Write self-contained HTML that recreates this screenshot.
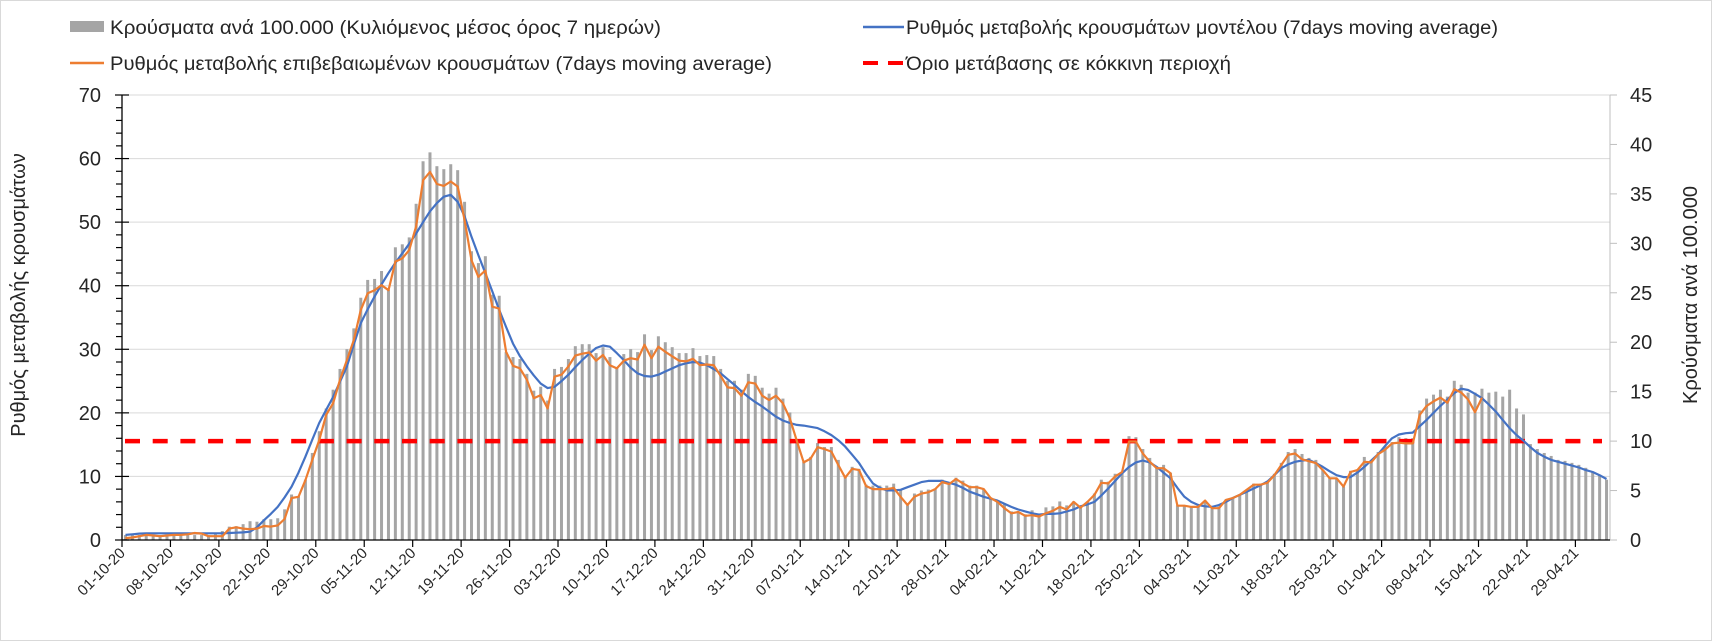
<!DOCTYPE html>
<html>
<head>
<meta charset="utf-8">
<style>
  html,body{margin:0;padding:0;background:#fff;}
  svg{display:block;font-family:"Liberation Sans","DejaVu Sans",sans-serif;}
</style>
</head>
<body>
<svg id="chart" width="1712" height="641" viewBox="0 0 1712 641" xmlns="http://www.w3.org/2000/svg">
  <rect x="0.5" y="0.5" width="1711" height="640" fill="#fff" stroke="#d9d9d9"/>
  <g>
    <g>
      <rect x="70" y="21" width="34" height="11" fill="#a5a5a5"/>
      <text x="110" y="34" font-size="19" fill="#262626" textLength="551" lengthAdjust="spacingAndGlyphs">Κρούσματα ανά 100.000 (Κυλιόμενος μέσος όρος 7 ημερών)</text>
    </g>
    <g>
      <line x1="70" y1="63" x2="104" y2="63" stroke="#ed7d31" stroke-width="2.5"/>
      <text x="110" y="70" font-size="19" fill="#262626" textLength="662" lengthAdjust="spacingAndGlyphs">Ρυθμός μεταβολής επιβεβαιωμένων κρουσμάτων (7days moving average)</text>
    </g>
    <g>
      <line x1="863" y1="27" x2="904" y2="27" stroke="#4472c4" stroke-width="2.5"/>
      <text x="906" y="34" font-size="19" fill="#262626" textLength="592" lengthAdjust="spacingAndGlyphs">Ρυθμός μεταβολής κρουσμάτων μοντέλου (7days moving average)</text>
    </g>
    <g>
      <line x1="863" y1="63" x2="904" y2="63" stroke="#ff0000" stroke-width="4" stroke-dasharray="15,10"/>
      <text x="906" y="70" font-size="19" fill="#262626" textLength="325" lengthAdjust="spacingAndGlyphs">Όριο μετάβασης σε κόκκινη περιοχή</text>
    </g>
  </g>
  <text transform="translate(25,295) rotate(-90)" text-anchor="middle" font-size="20" fill="#262626">Ρυθμός μεταβολής κρουσμάτων</text>
  <text transform="translate(1697,295) rotate(-90)" text-anchor="middle" font-size="20" fill="#262626">Κρούσματα ανά 100.000</text>
  <g id="grid"></g>
  <g id="bars"></g>
  <g id="lines"></g>
  <g id="axes"></g>
</svg>
<script>
const tickLabels = ["01-10-20","08-10-20","15-10-20","22-10-20","29-10-20","05-11-20","12-11-20","19-11-20","26-11-20","03-12-20","10-12-20","17-12-20","24-12-20","31-12-20","07-01-21","14-01-21","21-01-21","28-01-21","04-02-21","11-02-21","18-02-21","25-02-21","04-03-21","11-03-21","18-03-21","25-03-21","01-04-21","08-04-21","15-04-21","22-04-21","29-04-21"];
const leftTicks = [0,10,20,30,40,50,60,70];
const rightTicks = [0,5,10,15,20,25,30,35,40,45];
const redThreshold = 10;
const casesPer100k = [
0.5,0.5,0.5,0.6,0.5,0.5,0.5,0.5,0.6,0.5,
0.5,0.5,0.5,0.6,0.9,1.35,1.4,1.6,1.9,1.85,
2.1,2.1,2.2,3.1,4.6,4.4,6.1,8.8,11.0,13.3,
15.2,17.3,19.3,21.4,24.5,26.3,26.4,27.2,25.3,29.6,
29.9,30.6,34.0,38.3,39.2,37.8,37.5,38.0,37.4,34.2,
29.2,28.0,28.7,24.8,24.7,19.0,18.5,18.3,16.8,15.1,
15.5,14.1,17.3,17.5,18.3,19.6,19.8,19.8,18.9,19.5,
18.5,17.4,18.8,19.3,19.0,20.8,19.2,20.6,20.0,19.5,
18.9,18.9,19.4,18.6,18.7,18.6,17.3,16.1,16.1,15.2,
16.8,16.6,15.4,14.8,15.4,14.3,12.9,10.1,7.9,8.4,
9.8,9.4,9.4,8.1,6.4,7.4,7.2,5.6,5.5,5.5,
5.5,5.7,5.1,3.5,4.7,5.0,5.1,5.2,6.1,5.7,
6.3,6.0,5.5,5.5,5.1,4.2,4.0,3.7,2.9,2.9,
2.6,3.0,2.5,3.3,3.4,3.9,3.5,3.9,3.4,3.9,
4.7,6.1,5.9,6.7,6.9,10.5,10.4,9.2,8.3,7.4,
7.6,6.8,3.5,3.4,3.4,3.4,4.0,3.3,3.4,4.1,
4.3,4.6,5.1,5.7,5.7,5.8,6.7,7.8,8.9,9.2,
8.7,8.3,8.1,7.1,6.3,6.2,5.4,7.0,7.1,8.4,
7.9,8.9,9.5,9.9,10.4,10.3,10.3,13.1,14.3,14.7,
15.2,14.5,16.1,15.7,14.9,14.9,15.3,14.9,15.0,14.5,
15.2,13.3,12.7,9.7,9.2,8.8,8.5,8.1,8.0,7.8,
7.6,7.3,6.9,6.6,6.1];
const confirmedRate = [
0.3,0.4,0.6,0.8,0.7,0.6,0.7,0.8,0.8,0.9,1.1,1.0,0.6,0.6,0.6,
1.8,2.0,1.8,1.7,1.8,2.2,2.1,2.3,3.3,6.6,
6.8,9.4,12.6,15.7,19.7,21.5,25.2,28.3,31.5,36.2,
38.8,39.3,40.1,39.3,43.8,44.3,45.6,49.3,56.6,57.9,
56.0,55.7,56.4,55.6,50.3,44.0,41.4,42.4,36.7,36.4,
29.6,27.4,27.0,25.2,22.3,22.8,20.7,25.7,26.0,27.3,
29.0,29.3,29.5,28.2,29.1,27.5,27.0,28.2,28.6,28.4,
30.7,28.6,30.4,29.6,28.9,28.2,28.1,28.5,27.5,27.6,
27.5,25.8,24.0,23.9,22.7,24.8,24.6,22.7,22.0,22.7,
21.5,19.1,15.6,12.2,12.8,14.6,14.3,13.9,11.8,9.8,
11.2,11.0,8.5,8.0,8.0,8.0,8.2,6.8,5.5,6.8,
7.3,7.5,8.0,9.1,8.8,9.6,8.9,8.3,8.3,8.0,
6.6,6.0,5.0,4.2,4.4,3.8,3.9,3.7,4.2,4.6,
5.2,4.8,6.0,5.1,6.0,7.1,9.0,8.9,10.0,10.7,
15.5,15.5,13.6,12.3,11.3,11.3,10.5,5.4,5.4,5.2,
5.2,6.2,5.0,5.0,6.3,6.6,7.1,7.9,8.7,8.7,
9.0,10.2,11.8,13.4,13.6,12.7,12.4,12.1,11.0,9.7,
9.7,8.4,10.7,11.0,12.3,12.2,13.5,14.2,15.2,15.3,
15.2,15.2,19.7,21.1,21.8,22.4,21.6,23.7,23.2,22.1,20.1,22.4];
const modelRate = [
0.8,0.9,1.0,1.05,1.05,1.05,1.05,1.05,1.05,1.05,
1.05,1.05,1.05,1.05,1.05,1.1,1.15,1.2,1.3,2.0,
3.1,4.1,5.2,6.7,8.4,10.6,13.1,15.8,18.4,20.5,
22.5,24.9,27.3,30.8,34.1,36.3,38.3,40.2,42.0,43.6,
45.1,46.6,48.2,50.0,51.7,53.0,54.0,54.3,53.2,50.9,
47.7,44.8,42.0,39.1,36.2,33.5,30.9,28.9,27.3,25.9,
24.6,23.9,24.1,25.0,26.0,27.2,28.3,29.3,30.2,30.6,
30.4,29.4,28.3,27.1,26.2,25.8,25.7,26.0,26.5,27.0,
27.5,27.8,28.0,27.9,27.5,26.9,26.2,25.3,24.4,23.4,
22.5,21.7,21.0,20.2,19.4,18.8,18.4,18.1,18.0,17.8,
17.6,17.1,16.5,15.7,14.7,13.4,12.1,10.4,8.9,8.2,
7.8,7.8,7.9,8.3,8.7,9.1,9.3,9.3,9.3,9.0,
8.7,8.2,7.6,7.2,6.8,6.5,6.2,5.7,5.2,4.8,
4.5,4.2,4.0,4.1,4.1,4.2,4.5,4.8,5.3,5.6,
6.0,7.0,8.1,9.3,10.5,11.5,12.2,12.5,12.2,11.5,
10.6,9.7,8.2,6.8,6.0,5.5,5.3,5.2,5.5,6.0,
6.6,7.1,7.6,8.1,8.6,9.2,10.2,11.3,11.9,12.3,
12.5,12.6,12.1,11.5,10.8,10.2,9.9,9.9,10.6,11.5,
12.5,13.5,14.8,16.0,16.6,16.8,16.9,17.9,18.9,20.0,
21.1,22.1,23.1,23.8,23.6,23.0,22.3,21.3,20.2,18.9,
17.6,16.5,15.6,14.6,13.7,13.1,12.6,12.3,12.0,11.7,
11.4,11.0,10.7,10.2,9.6];

const NS = "http://www.w3.org/2000/svg";
const X0 = 122, X1 = 1610, YT = 95, YB = 540;
const N = casesPer100k.length;
const dayW = (X1 - X0) / N;
function xCat(i){ return X0 + (i + 0.5) * dayW; }
function xEdge(i){ return X0 + i * dayW; }
function yLeft(v){ return YB - v / 70 * (YB - YT); }
function yRight(v){ return YB - v / 45 * (YB - YT); }
function mk(tag, attrs, parent){
  const el = document.createElementNS(NS, tag);
  for (const k in attrs) el.setAttribute(k, attrs[k]);
  parent.appendChild(el);
  return el;
}
const grid = document.getElementById("grid");
const barsG = document.getElementById("bars");
const linesG = document.getElementById("lines");
const axes = document.getElementById("axes");

// gridlines (left axis major)
leftTicks.forEach(t => {
  if (t === 0) return;
  const g = mk("line", {x1:X0, x2:X1, y1:yLeft(t), y2:yLeft(t), stroke:"#d9d9d9", "stroke-width":1}, grid);
  
  
});

// bars
casesPer100k.forEach((v, i) => {
  const y = yRight(v);
  const b = mk("rect", {x:xCat(i) - 1.5, y:y, width:3, height:YB - y, fill:"#a5a5a5"}, barsG);
  
  
});

// red threshold
const red = mk("line", {x1:X0 + 3, x2:X1 - 8, y1:yRight(redThreshold), y2:yRight(redThreshold), stroke:"#ff0000", "stroke-width":4.5, "stroke-dasharray":"15,12.7"}, linesG);



// model line
const bl = mk("polyline", {points: modelRate.map((v,i)=>xCat(i).toFixed(1)+","+yLeft(v).toFixed(1)).join(" "), fill:"none", stroke:"#4472c4", "stroke-width":2.2, "stroke-linejoin":"round"}, linesG);



// confirmed line
const ol = mk("polyline", {points: confirmedRate.map((v,i)=>xCat(i).toFixed(1)+","+yLeft(v).toFixed(1)).join(" "), fill:"none", stroke:"#ed7d31", "stroke-width":2.2, "stroke-linejoin":"round"}, linesG);



// left axis
const la = mk("line", {x1:X0, x2:X0, y1:YT, y2:YB, stroke:"#000", "stroke-width":1.3}, axes);


for (let v = 0; v <= 70; v += 2) {
  const major = v % 10 === 0;
  const tk = mk("line", {x1: major ? X0 - 7 : X0 - 6, x2: major ? X0 + 7 : X0, y1:yLeft(v), y2:yLeft(v), stroke:"#000", "stroke-width":1.2}, axes);
  
  
}
leftTicks.forEach(t => {
  const tx = mk("text", {x:101, y:yLeft(t) + 7, "text-anchor":"end", "font-size":20, fill:"#262626"}, axes);
  tx.textContent = t;
  
  
});

// right axis
const ra = mk("line", {x1:X1, x2:X1, y1:YT, y2:YB, stroke:"#bfbfbf", "stroke-width":1}, axes);


rightTicks.forEach(t => {
  const tk = mk("line", {x1:X1, x2:X1 + 7, y1:yRight(t), y2:yRight(t), stroke:"#bfbfbf", "stroke-width":1}, axes);
  
  
  const tx = mk("text", {x:1630, y:yRight(t) + 7, "font-size":20, fill:"#262626"}, axes);
  tx.textContent = t;
  
  
});

// x axis
const xa = mk("line", {x1:X0, x2:X1, y1:YB, y2:YB, stroke:"#000", "stroke-width":1.3}, axes);


tickLabels.forEach((lab, k) => {
  const x = xEdge(k * 7);
  const tk = mk("line", {x1:x, x2:x, y1:YB, y2:YB + 7, stroke:"#000", "stroke-width":1.2}, axes);
  
  
  const tx = mk("text", {transform:"translate(" + (x + 4) + "," + (YB + 14) + ") rotate(-45)", "text-anchor":"end", "font-size":15, fill:"#262626"}, axes);
  tx.textContent = lab;
  
  
});
</script>
</body>
</html>
